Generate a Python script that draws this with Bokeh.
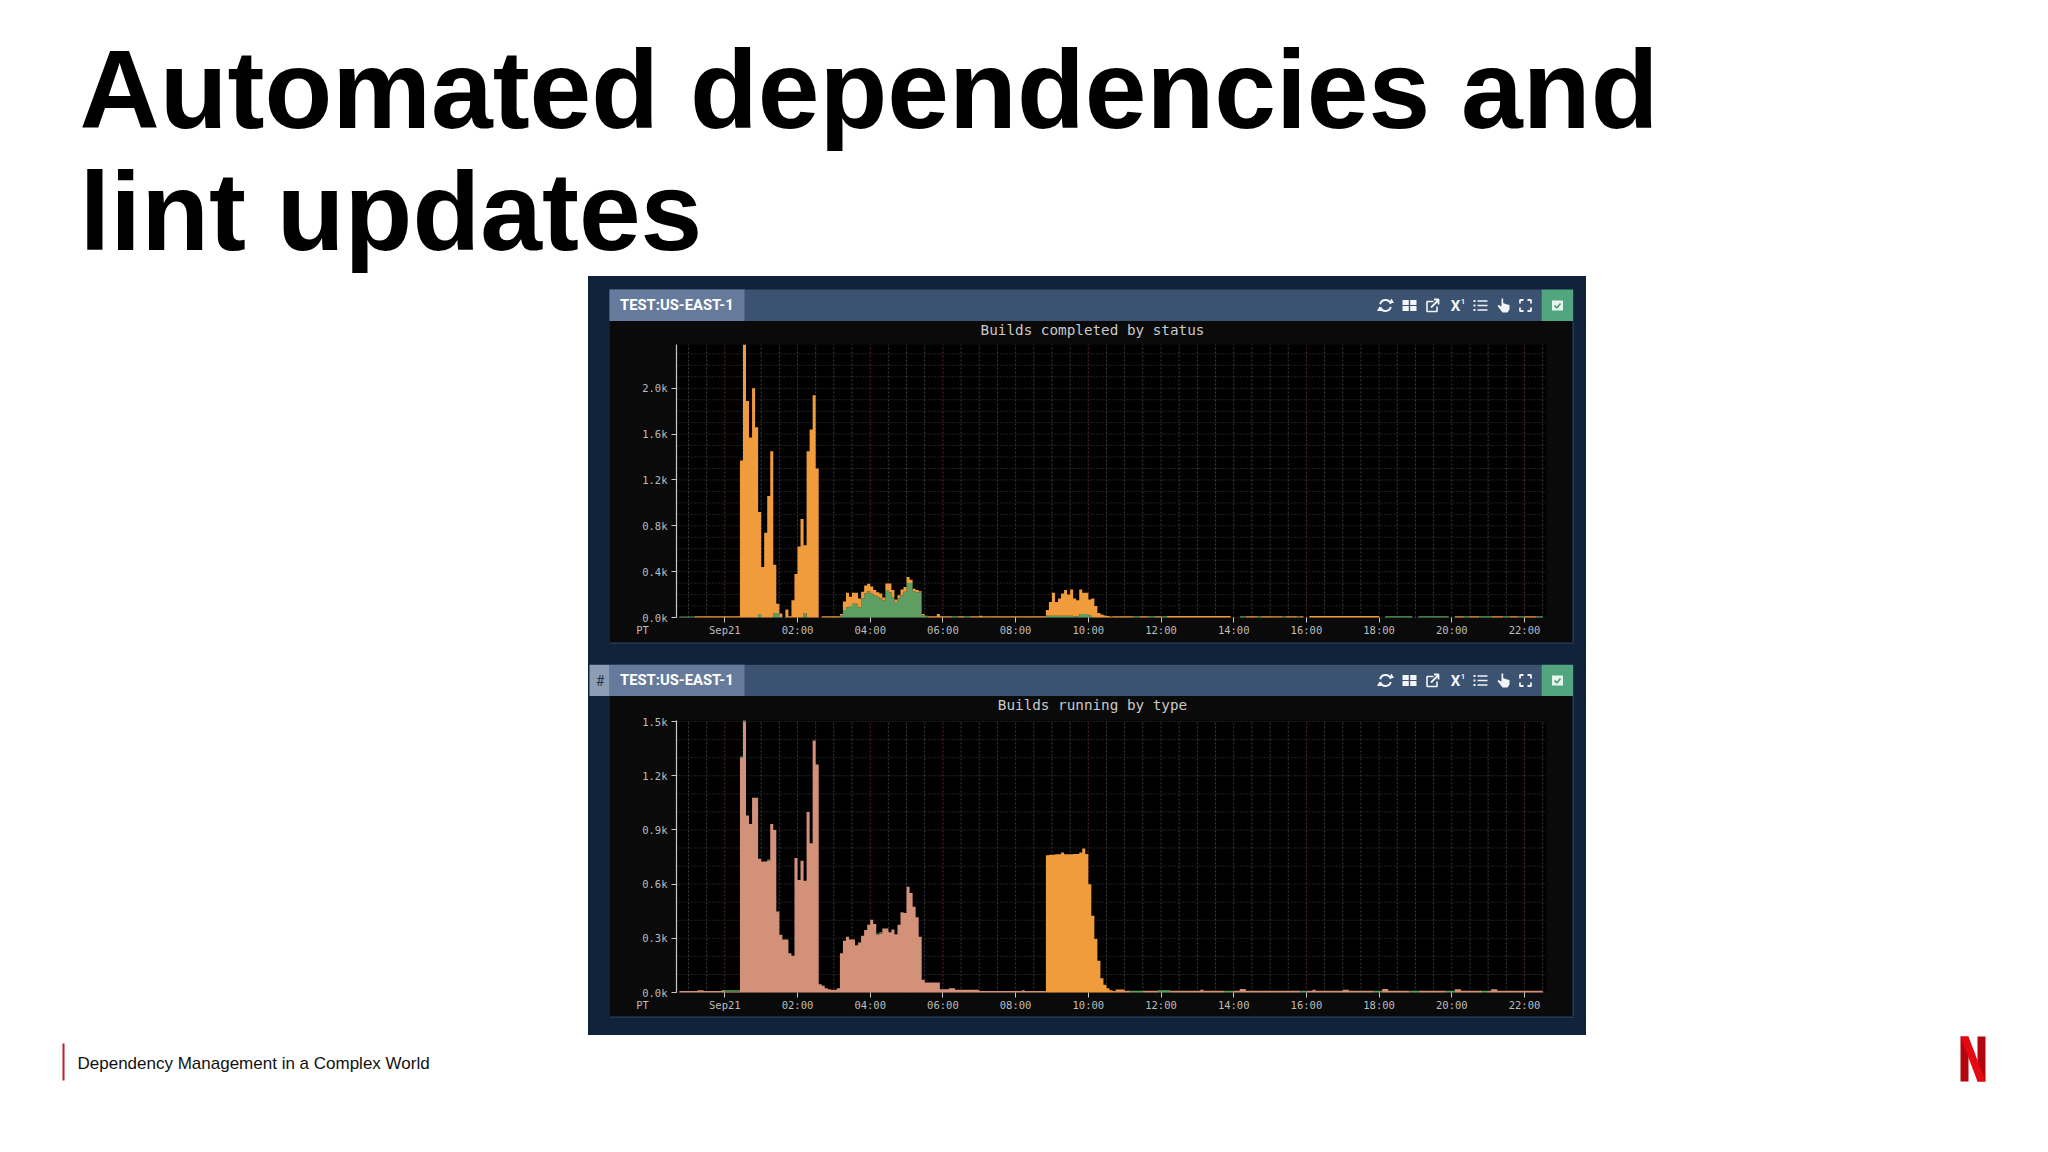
from bokeh.core.properties import value
from bokeh.embed import file_html
from bokeh.resources import INLINE
from bokeh.layouts import column, row
from bokeh.models import ColumnDataSource, FixedTicker, Label, PrintfTickFormatter, Range1d, Spacer
from bokeh.plotting import figure

# ---------- slide text ----------
TITLE_LINES = ["Automated dependencies and", "lint updates"]
FOOTER_TEXT = "Dependency Management in a Complex World"
TAB_TEXT = "TEST:US-EAST-1"
CHART1_TITLE = "Builds completed by status"
CHART2_TITLE = "Builds running by type"

# ---------- axes ----------
X_TICKS = [0, 2, 4, 6, 8, 10, 12, 14, 16, 18, 20, 22]
X_LABELS = ["Sep21", "02:00", "04:00", "06:00", "08:00", "10:00", "12:00", "14:00", "16:00", "18:00", "20:00", "22:00"]
Y1_TICKS = [0.0, 0.4, 0.8, 1.2, 1.6, 2.0]
Y2_TICKS = [0.0, 0.3, 0.6, 0.9, 1.2, 1.5]
# 5-minute bins, hours relative to midnight Sep21 (first bin is -16 x 5 min)
BIN_INDEX = list(range(-16, 271))

# ---------- chart 1: builds completed (thousands), one row per hour ----------
completed_green = [
    0, .008, .008, .008,
    .008, .008, 0, 0, 0, 0, 0, 0, 0, 0, 0, 0,
    0, 0, 0, 0, 0, 0, 0, 0, 0, 0, 0, .03,
    0, 0, 0, 0, .04, .04, .005, 0, 0, 0, 0, 0,
    0, 0, .04, 0, 0, 0, 0, 0, 0, 0, 0, 0,
    0, 0, .02, .065, .09, .10, .12, .12, .09, .165, .21, .23,
    .21, .195, .18, .165, .15, .24, .22, .175, .135, .165, .195, .225,
    .30, .30, .23, .22, .22, .02, .01, 0, 0, 0, 0, 0,
    0, 0, 0, .01, .01, 0, 0, .01, .01, 0, 0, 0,
    0, 0, 0, 0, 0, 0, 0, 0, 0, 0, 0, 0,
    0, 0, 0, 0, 0, 0, 0, 0, 0, 0, .015, .015,
    .015, .015, .015, .015, .015, .015, .015, .01, .01, .03, .03, .03,
    .02, 0, 0, 0, 0, 0, 0, 0, 0, 0, 0, 0,
    0, 0, 0, .01, .01, 0, 0, 0, .01, .01, 0, 0,
    .01, .01, 0, 0, 0, 0, 0, 0, 0, 0, 0, 0,
    0, 0, 0, 0, 0, 0, 0, 0, 0, 0, 0, 0,
    0, 0, .01, .01, 0, 0, 0, 0, .01, 0, 0, 0,
    0, 0, 0, 0, .01, 0, 0, 0, 0, .01, 0, 0,
    0, 0, 0, 0, 0, 0, 0, 0, 0, 0, 0, 0,
    0, 0, 0, 0, 0, 0, 0, 0, 0, 0, 0, 0,
    0, 0, .01, .01, .01, .01, .01, .01, .01, .01, .01, 0,
    0, .01, .01, .01, .01, .01, .01, .01, .01, .01, .01, 0,
    0, 0, 0, 0, .01, .01, 0, 0, 0, .01, .01, .01,
    .01, 0, 0, 0, 0, .01, .01, 0, 0, 0, .01, .01,
    0, 0, 0, 0, .01, .01, 0,
]
completed_orange = [
    0, 0, 0, 0,
    0, 0, .01, .01, .01, .01, .01, .01, .01, .01, .01, .01,
    .01, .01, .01, .01, .01, 1.37, 2.38, 1.89, 1.57, 2.0, 1.66, .89,
    .44, .74, 1.06, 1.45, .42, .08, .03, 0, .07, .01, .15, .38,
    .62, .86, .59, 1.45, 1.64, 1.94, 1.30, 0, .01, .01, .01, .01,
    .01, .01, .01, .075, .125, .08, .095, .095, .075, .06, .07, .065,
    .06, .045, .04, .045, .025, .056, .076, .065, .022, .03, .05, .042,
    .054, .03, .02, .02, .01, .01, .005, .01, .01, .01, .03, .01,
    .01, .01, .01, 0, 0, .01, .01, 0, 0, .01, .01, .01,
    .015, .01, .01, .01, .01, .01, .01, .01, .01, .01, .01, .01,
    .01, .01, .01, .01, .01, .01, .01, .01, .01, .01, .05, .12,
    .20, .12, .15, .195, .225, .185, .23, .155, .14, .215, .185, .185,
    .137, .165, .10, .04, .026, .017, .012, .008, .01, .01, .01, .01,
    .01, .01, .01, 0, 0, .01, .01, .01, 0, 0, .01, .01,
    0, 0, .012, .012, .012, .012, .012, .012, .012, .012, .012, .012,
    .012, .012, .012, .012, .012, .012, .012, .012, .012, .012, .012, 0,
    0, 0, 0, 0, .01, .01, .01, .01, 0, .01, .01, .01,
    .01, .01, .01, .01, 0, .01, .01, .01, .01, 0, .01, 0,
    0, .012, .012, .012, .012, .012, .012, .012, .012, .012, .012, .012,
    .012, .012, .012, .012, .012, .012, .012, .012, .012, .012, .012, .012,
    0, 0, 0, 0, 0, 0, 0, 0, 0, 0, 0, 0,
    0, 0, 0, 0, 0, 0, 0, 0, 0, 0, 0, 0,
    0, .01, .01, .01, 0, 0, .01, .01, .01, 0, 0, 0,
    0, .01, .01, .01, .01, 0, 0, .01, .01, .01, 0, 0,
    .01, .01, .01, .01, 0, 0, .01,
]

# ---------- chart 2: builds running (thousands), one row per hour ----------
running_salmon = [
    0, .008, .008, .008,
    .008, .008, .008, .012, .012, .008, .008, .008, .008, .008, .008, .008,
    .004, .004, .004, .004, .004, 1.30, 1.50, .98, .933, 1.078, 1.078, .74,
    .726, .725, .73, .933, .90, .449, .32, .294, .294, .218, .203, .745,
    .623, .73, .619, 1.00, .826, 1.395, 1.262, .046, .037, .024, .018, .015,
    .015, .024, .218, .286, .309, .294, .294, .262, .277, .314, .346, .375,
    .403, .379, .32, .327, .355, .355, .333, .349, .323, .375, .444, .44,
    .586, .551, .475, .416, .309, .07, .055, .055, .055, .055, .055, .018,
    .018, .018, .024, .024, .015, .015, .015, .015, .015, .015, .015, .015,
    .008, .008, .008, .008, .008, .008, .008, .008, .008, .008, .008, .008,
    .008, .008, .012, .008, .008, .008, .008, .008, .008, .008, 0, 0,
    0, 0, 0, 0, 0, 0, 0, 0, 0, 0, 0, 0,
    0, 0, 0, 0, 0, 0, 0, 0, 0, .008, .008, .008,
    .01, .01, 0, 0, 0, 0, .01, .01, .01, .01, .01, 0,
    0, 0, 0, .01, .01, .01, .01, .01, .01, .01, .01, .01,
    .01, .015, .01, .01, .01, .01, .01, .01, .01, 0, 0, 0,
    .01, .01, .02, .02, .01, .01, .01, .01, .01, .01, .01, .01,
    .01, .01, .01, .01, .01, .01, .01, .01, .01, .01, 0, 0,
    .01, .01, .015, .01, .01, .01, .01, .01, .01, .01, .01, .01,
    .015, .015, .01, .01, .01, .01, .01, .01, .01, .01, 0, 0,
    0, .02, .02, .01, .01, .01, .01, .01, .01, .01, 0, 0,
    0, .01, .01, .01, .01, .01, .01, .01, .01, .01, 0, 0,
    0, .018, .018, .01, .01, .01, .01, .01, .01, .01, 0, 0,
    .01, .018, .018, .01, .01, .01, .01, .01, .01, .01, .01, .01,
    .01, .01, .01, .01, .01, .01, .01,
]
running_orange = [
    0, 0, 0, 0,
    0, 0, 0, 0, 0, 0, 0, 0, 0, 0, 0, 0,
    0, 0, 0, 0, 0, 0, 0, 0, 0, 0, 0, 0,
    0, 0, 0, 0, 0, 0, 0, 0, 0, 0, 0, 0,
    0, 0, 0, 0, 0, 0, 0, 0, 0, 0, 0, 0,
    0, 0, 0, 0, 0, 0, 0, 0, 0, 0, 0, 0,
    0, 0, 0, 0, 0, 0, 0, 0, 0, 0, 0, 0,
    0, 0, 0, 0, 0, 0, 0, 0, 0, 0, 0, 0,
    0, 0, 0, 0, 0, 0, 0, 0, 0, 0, 0, 0,
    0, 0, 0, 0, 0, 0, 0, 0, 0, 0, 0, 0,
    0, 0, 0, 0, 0, 0, 0, 0, 0, 0, .76, .762,
    .763, .765, .765, .775, .765, .765, .765, .767, .767, .775, .797, .767,
    .60, .425, .296, .176, .079, .043, .024, .013, .008, .008, .008, .008,
    0, 0, 0, 0, 0, 0, 0, 0, 0, 0, 0, 0,
    0, 0, 0, 0, 0, 0, 0, 0, 0, 0, 0, 0,
    0, 0, 0, 0, 0, 0, 0, 0, 0, 0, 0, 0,
    0, 0, 0, 0, 0, 0, 0, 0, 0, 0, 0, 0,
    0, 0, 0, 0, 0, 0, 0, 0, 0, 0, 0, 0,
    0, 0, 0, 0, 0, 0, 0, 0, 0, 0, 0, 0,
    0, 0, 0, 0, 0, 0, 0, 0, 0, 0, 0, 0,
    0, 0, 0, 0, 0, 0, 0, 0, 0, 0, 0, 0,
    0, 0, 0, 0, 0, 0, 0, 0, 0, 0, 0, 0,
    0, 0, 0, 0, 0, 0, 0, 0, 0, 0, 0, 0,
    0, 0, 0, 0, 0, 0, 0, 0, 0, 0, 0, 0,
    0, 0, 0, 0, 0, 0, 0,
]
running_green = [
    0, 0, 0, 0,
    0, 0, 0, 0, 0, 0, 0, 0, 0, 0, 0, .006,
    .008, .008, .008, .008, .008, .006, .006, 0, 0, 0, 0, 0,
    0, 0, .006, 0, 0, 0, 0, 0, 0, 0, 0, 0,
    0, 0, 0, 0, 0, 0, 0, 0, 0, 0, 0, 0,
    0, 0, 0, 0, 0, 0, 0, 0, 0, 0, 0, 0,
    0, 0, .006, .006, 0, 0, 0, 0, 0, 0, 0, 0,
    0, 0, 0, 0, 0, 0, 0, 0, 0, 0, 0, 0,
    0, 0, 0, 0, 0, 0, 0, 0, 0, 0, 0, 0,
    0, 0, 0, 0, 0, 0, 0, 0, 0, 0, 0, 0,
    0, 0, 0, 0, 0, 0, 0, 0, 0, 0, 0, 0,
    0, 0, 0, 0, 0, 0, 0, 0, 0, 0, 0, 0,
    0, 0, 0, 0, 0, 0, 0, 0, 0, 0, 0, 0,
    0, 0, .01, .01, .01, .01, 0, 0, 0, 0, 0, .012,
    .012, .012, .012, 0, 0, 0, 0, 0, 0, 0, 0, 0,
    0, 0, 0, 0, 0, 0, 0, 0, 0, .01, .01, .01,
    0, 0, 0, 0, 0, 0, 0, 0, 0, 0, 0, 0,
    0, 0, 0, 0, 0, 0, 0, 0, 0, 0, .01, .01,
    0, 0, 0, 0, 0, 0, 0, 0, 0, 0, 0, 0,
    0, 0, 0, 0, 0, 0, 0, 0, 0, 0, .01, .01,
    .01, 0, 0, 0, 0, 0, 0, 0, 0, 0, .01, .01,
    .01, 0, 0, 0, 0, 0, 0, 0, 0, 0, .01, .01,
    .01, 0, 0, 0, 0, 0, 0, 0, 0, 0, .01, .01,
    0, 0, 0, 0, 0, 0, 0, 0, 0, 0, 0, 0,
    0, 0, 0, 0, 0, 0, 0,
]
for _s in (completed_green, completed_orange, running_salmon, running_orange, running_green):
    assert len(_s) == len(BIN_INDEX), len(_s)

# ---------- palette ----------
WHITE = "#ffffff"
NAVY = "#11233a"
HEADER = "#3b5270"
TAB = "#667b9b"
TAB_HASH = "#8d9db5"
CHECK = "#52a67f"
DARK = "#0a0a0a"
FRAME = "#000000"
ORANGE = "#f09c3c"
GREEN = "#5f9e62"
SALMON = "#d4917a"
AXIS = "#c8c8c8"
TICK_TEXT = "#bdbdbd"
EDGE = "#24384f"
GRID = "#3f3f3f"
GRID_RED = "#5a2a28"
MONO = "DejaVu Sans Mono"

PANEL_X = 588
PANEL_W = 998
DARK_X0, DARK_X1 = 610, 1572
FRAME_X0, FRAME_X1 = 676, 1546
PX_PER_HOUR = 36.35
ZERO_X = 724.3
X_START = (FRAME_X0 - ZERO_X) / PX_PER_HOUR
X_END = (FRAME_X1 - ZERO_X) / PX_PER_HOUR


def canvas_fig(w, h, fill):
    """Decoration strip whose data coordinates are its own pixels, y downward."""
    p = figure(width=w, height=h, x_range=Range1d(0, w), y_range=Range1d(h, 0), x_axis_type=None, y_axis_type=None,
               toolbar_location=None, output_backend="svg", min_border=0, outline_line_color=None,
               background_fill_color=fill, border_fill_color=None, frame_align=False,
               styles={"background-color": fill})
    p.grid.visible = False
    return p


def header_fig(h, bar_top, with_hash):
    p = canvas_fig(PANEL_W, h, NAVY)
    bar_bottom = h
    cy = (bar_top + bar_bottom) / 2
    px = lambda x: x - PANEL_X
    p.quad(left=[px(609)], right=[px(1541)], top=[bar_top], bottom=[bar_bottom + 1], fill_color=HEADER, line_color=None)
    p.quad(left=[px(609)], right=[px(744)], top=[bar_top], bottom=[bar_bottom + 1], fill_color=TAB, line_color=None)
    if with_hash:
        p.quad(left=[px(589)], right=[px(609)], top=[bar_top], bottom=[bar_bottom + 1], fill_color=TAB_HASH, line_color=None)
        p.text(x=[px(599.5)], y=[cy], text=["#"], text_color="#26364a", text_font=value("Roboto"), text_font_size="14px",
               text_align="center", text_baseline="middle")
    p.text(x=[px(619.5)], y=[cy - 0.5], text=[TAB_TEXT], text_color="#ffffff", text_font=value("Roboto"), text_font_size="14.8px",
           text_font_style="bold", text_align="left", text_baseline="middle")
    p.quad(left=[px(1541)], right=[px(1572.7)], top=[bar_top], bottom=[bar_bottom + 1], fill_color=CHECK, line_color=None)
    ic = "#f2f4f7"
    # refresh
    x = px(1385)
    p.arc(x=[x, x], y=[cy, cy], radius=5.5, start_angle=[0.3, 3.45], end_angle=[2.9, 6.0], line_color=ic, line_width=2)
    p.scatter(x=[x + 6, x - 6], y=[cy - 4, cy + 4], marker="triangle", size=5, fill_color=ic, line_color=None)
    # grid
    x = px(1409)
    p.quad(left=[x - 7, x + 0.7, x - 7, x + 0.7], right=[x - 0.7, x + 7, x - 0.7, x + 7],
           top=[cy - 5.5, cy - 5.5, cy + 0.6, cy + 0.6], bottom=[cy - 0.6, cy - 0.6, cy + 5.5, cy + 5.5],
           fill_color=ic, line_color=None)
    # external link
    x = px(1432)
    p.line(x=[x + 1, x - 5.5, x - 5.5, x + 4.5, x + 4.5], y=[cy - 4, cy - 4, cy + 6, cy + 6, cy + 1], line_color=ic, line_width=1.6)
    p.line(x=[x - 1.5, x + 6], y=[cy + 2, cy - 5.5], line_color=ic, line_width=1.8)
    p.line(x=[x + 1.5, x + 6, x + 6], y=[cy - 6, cy - 6, cy - 1], line_color=ic, line_width=1.8)
    # X-one
    x = px(1455)
    p.text(x=[x], y=[cy + 0.5], text=["X"], text_color=ic, text_font=value("Roboto"), text_font_size="15px", text_font_style="bold",
           text_align="center", text_baseline="middle")
    p.text(x=[x + 7.5], y=[cy - 4], text=["1"], text_color=ic, text_font=value("Roboto"), text_font_size="7px", text_font_style="bold",
           text_align="center", text_baseline="middle")
    # list
    x = px(1480)
    p.multi_line(xs=[[x - 3, x + 7]] * 3, ys=[[cy - 4.5] * 2, [cy] * 2, [cy + 4.5] * 2], line_color=ic, line_width=1.6)
    p.quad(left=[x - 7] * 3, right=[x - 5] * 3, top=[cy - 5.5, cy - 1, cy + 3.5], bottom=[cy - 3.5, cy + 1, cy + 5.5],
           fill_color=ic, line_color=None)
    # hand
    x = px(1503)
    p.patch(x=[x - 2, x - 0.3, x - 0.3, x + 2, x + 6, x + 6, x + 4, x - 1, x - 6, x - 5, x - 2],
            y=[cy - 7, cy - 7, cy - 2.5, cy - 1.5, cy - 0.5, cy + 4, cy + 7, cy + 7, cy + 0.5, cy - 0.5, cy + 1],
            fill_color=ic, line_color=None)
    # fullscreen
    x = px(1525)
    m = 5.5
    p.multi_line(xs=[[x - m, x - m, x - 2], [x + 2, x + m, x + m], [x - m, x - m, x - 2], [x + 2, x + m, x + m]],
                 ys=[[cy - 2, cy - m, cy - m], [cy - m, cy - m, cy - 2], [cy + 2, cy + m, cy + m], [cy + m, cy + m, cy + 2]],
                 line_color=ic, line_width=1.8)
    # check box
    x = px(1557)
    p.quad(left=[x - 5.5], right=[x + 5.5], top=[cy - 5], bottom=[cy + 5], fill_color="#e9f3ee", line_color=None)
    p.line(x=[x - 3, x - 0.7, x + 3], y=[cy, cy + 2.3, cy - 2], line_color=CHECK, line_width=1.8)
    return p


def chart_fig(fig_h, plot_top, plot_bottom, y_end, ticks, y_grid, title, series, colors):
    """The frame fills the whole dark card; the plotted area sits inside it, so every text can live in the frame."""
    lefts = [i / 12 for i in BIN_INDEX]
    data = {"x": lefts}
    base = [0.0] * len(lefts)
    layers = []
    for name, vals in series.items():
        top = [b + v for b, v in zip(base, vals)]
        data[name + "_y1"], data[name + "_y2"] = base, top
        layers.append(name)
        base = top
    src = ColumnDataSource(data)
    px_per_k = (plot_bottom - plot_top) / y_end
    x_range = Range1d((DARK_X0 - ZERO_X) / PX_PER_HOUR, (DARK_X1 - ZERO_X) / PX_PER_HOUR)
    y_range = Range1d(-(fig_h - plot_bottom) / px_per_k, y_end + plot_top / px_per_k)
    p = figure(width=DARK_X1 - DARK_X0, height=fig_h, x_range=x_range, y_range=y_range,
               toolbar_location=None, output_backend="svg", frame_align=False, min_border=0,
               background_fill_color=DARK, border_fill_color=None, outline_line_color=None,
               styles={"background-color": DARK})
    p.grid.visible = False
    p.quad(left=[X_START], right=[X_END], bottom=[0], top=[y_end], fill_color=FRAME, line_color=None)

    half_hours = [(i - 2) / 2 for i in range(0, 50) if X_START < (i - 2) / 2 < X_END and (i - 2) / 2 not in X_TICKS]
    grid_v = p.segment(x0=half_hours, x1=half_hours, y0=[0] * len(half_hours), y1=[y_end] * len(half_hours),
                       line_color=GRID, line_width=1)
    grid_v.glyph.line_dash = [2, 2]
    grid_r = p.segment(x0=X_TICKS, x1=X_TICKS, y0=[0] * len(X_TICKS), y1=[y_end] * len(X_TICKS),
                       line_color=GRID_RED, line_width=1)
    grid_r.glyph.line_dash = [2, 2]
    grid_h = p.segment(x0=[X_START] * len(y_grid), x1=[X_END] * len(y_grid), y0=y_grid, y1=y_grid,
                       line_color=GRID, line_width=1)
    grid_h.glyph.line_dash = [1, 2]

    for name, col in zip(layers, colors):
        p.varea_step(x="x", y1=name + "_y1", y2=name + "_y2", step_mode="after", fill_color=col, source=src)

    xa, ya = p.xaxis[0], p.yaxis[0]
    xa.fixed_location = 0
    ya.fixed_location = X_START
    xa.ticker = FixedTicker(ticks=X_TICKS)
    xa.major_label_overrides = dict(zip(X_TICKS, X_LABELS))
    ya.ticker = FixedTicker(ticks=ticks)
    ya.bounds = (0, y_end)
    ya.formatter = PrintfTickFormatter(format="%.1fk")
    for a in (xa, ya):
        a.major_label_text_font = MONO
        a.major_label_text_font_size = "10.5px"
        a.major_label_text_color = TICK_TEXT
        a.major_tick_line_color = AXIS
        a.major_tick_in = 0
        a.major_tick_out = 5
        a.minor_tick_line_color = None
    xa.major_label_standoff = 1
    ya.major_label_standoff = 4
    xa.axis_line_color = None
    ya.axis_line_color = AXIS
    ya.axis_line_width = 1.2

    # screen units count from the frame's lower left corner, which here is the card's own corner
    p.add_layout(Label(x=32, y=fig_h - plot_bottom - 12.5, x_units="screen", y_units="screen", text="PT",
                       text_font=MONO, text_font_size="10.5px", text_color=TICK_TEXT, text_align="center",
                       text_baseline="middle"))
    p.add_layout(Label(x=482, y=fig_h - 8, x_units="screen", y_units="screen", text=title,
                       text_font=MONO, text_font_size="14.3px", text_color="#c9c9c9", text_align="center",
                       text_baseline="middle"))
    return p


def side_strip(w, h):
    return canvas_fig(w, h, NAVY)


def right_strip(h):
    p = canvas_fig(PANEL_X + PANEL_W - DARK_X1, h, NAVY)
    p.quad(left=[0], right=[1.5], top=[0], bottom=[h + 1], fill_color=EDGE, line_color=None)
    return p


def gap_strip(h):
    p = canvas_fig(PANEL_W, h, NAVY)
    p.quad(left=[DARK_X0 - PANEL_X], right=[DARK_X1 - PANEL_X + 1.5], top=[0], bottom=[1.5], fill_color=EDGE, line_color=None)
    return p


# ---------- title ----------
title_fig = canvas_fig(2040, 276, WHITE)
title_fig.text(x=[79, 79], y=[89, 211], text=TITLE_LINES, text_color="#000000", text_font=value("Liberation Sans"),
               text_font_size="111px", text_font_style="bold", text_align="left", text_baseline="alphabetic")

# ---------- panels ----------
head1 = header_fig(45, 13, False)
chart1 = chart_fig(321, 23, 296, 2.382, Y1_TICKS,
                   [0.1 * k for k in range(0, 24)], CHART1_TITLE,
                   {"completed_green": completed_green, "completed_orange": completed_orange}, [GREEN, ORANGE])
head2 = header_fig(32, 0, True)
chart2 = chart_fig(320, 24, 296, 1.506, Y2_TICKS,
                   [0.1 * k for k in range(0, 16)], CHART2_TITLE,
                   {"running_salmon": running_salmon, "running_orange": running_orange, "running_green": running_green},
                   [SALMON, ORANGE, GREEN])
body1 = row(side_strip(DARK_X0 - PANEL_X, 321), chart1, right_strip(321), spacing=0)
body2 = row(side_strip(DARK_X0 - PANEL_X, 320), chart2, right_strip(320), spacing=0)

# ---------- footer ----------
footer = canvas_fig(2040, 109, WHITE)
footer.quad(left=[62], right=[64], top=[8], bottom=[45], fill_color="#c0202a", line_color=None)
footer.text(x=[77], y=[27.5], text=[FOOTER_TEXT], text_color="#111111", text_font=value("Liberation Sans"), text_font_size="17px",
            text_align="left", text_baseline="alphabetic")
footer.patch(x=[1960, 1968, 1968, 1960], y=[1, 1, 46, 46], fill_color="#b1060f", line_color=None)
footer.patch(x=[1977, 1985, 1985, 1977], y=[1, 1, 46, 46], fill_color="#b1060f", line_color=None)
footer.patch(x=[1960, 1968, 1985, 1977], y=[1, 1, 46, 46], fill_color="#e50914", line_color=None)

page = column(title_fig,
              row(Spacer(width=PANEL_X, height=10),
                  column(head1, body1, gap_strip(22), head2, body2, gap_strip(19), spacing=0), spacing=0),
              footer, spacing=0)
open("out.html", "w").write(file_html(page, INLINE))
